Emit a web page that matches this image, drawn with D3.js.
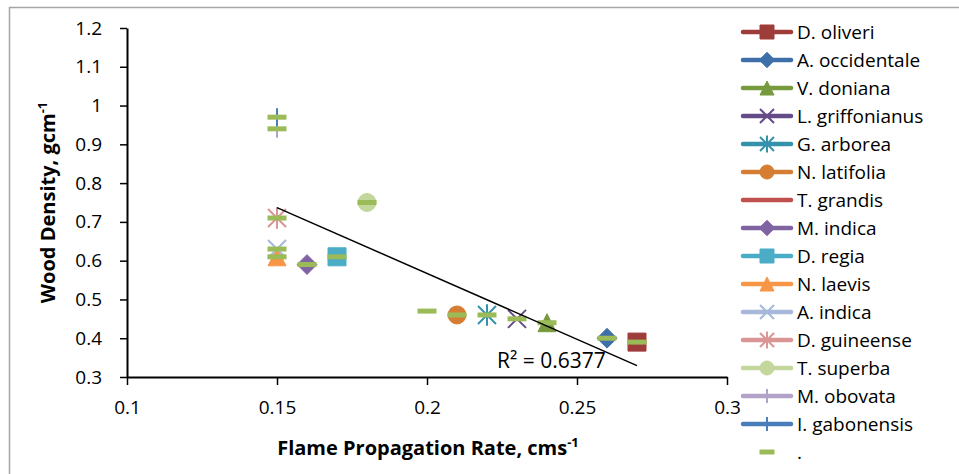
<!DOCTYPE html>
<html>
<head>
<meta charset="utf-8">
<script src="https://cdn.jsdelivr.net/npm/d3@7"></script>
<style>
  body { margin: 0; background: #fff; }
  svg text { font-family: "Open Sans", "Noto Sans", sans-serif; fill: #000; }
</style>
</head>
<body>
<div id="wrapper"></div>
<script>
// species names in legend order; last one is the "." series that holds every point
var species = ["D. oliveri", "A. occidentale", "V. doniana", "L. griffonianus", "G. arborea",
  "N. latifolia", "T. grandis", "M. indica", "D. regia", "N. laevis", "A. indica",
  "D. guineense", "T. superba", "M. obovata", "I. gabonensis", "."];
var colors = ["#9E3C3A", "#3F6FA8", "#779A3E", "#654B87", "#3592AB", "#D57D33", "#C0504D",
  "#8064A2", "#4BACC6", "#F79646", "#A6B9DA", "#D99694", "#C3D69B", "#B3A2C7", "#4A7EBB", "#9BBB59"];
var shapes = ["square", "diamond", "triangle", "x", "asterisk", "circle", "none", "diamond",
  "square", "triangle", "x", "asterisk", "circle", "plus", "plus", "dash"];
// one point per species (the "." series reuses all of them)
var rate = [0.27, 0.26, 0.24, 0.23, 0.22, 0.21, 0.20, 0.16, 0.17, 0.15, 0.15, 0.15, 0.18, 0.15, 0.15];
var density = [0.39, 0.40, 0.44, 0.45, 0.46, 0.46, 0.47, 0.59, 0.61, 0.61, 0.63, 0.71, 0.75, 0.94, 0.97];
var xTicks = [0.1, 0.15, 0.2, 0.25, 0.3];
var yTicks = [0.3, 0.4, 0.5, 0.6, 0.7, 0.8, 0.9, 1, 1.1, 1.2];
var r2Label = "R\u00B2 = 0.6377";

var width = 959, height = 474;
var margin = { left: 127, right: 232, top: 28, bottom: 97 };

var svg = d3.select("#wrapper").append("svg")
  .attr("width", width)
  .attr("height", height);

// chart area border (only top/left visible in frame)
svg.append("rect")
  .attr("x", 9.5).attr("y", 7.5)
  .attr("width", 1000).attr("height", 600)
  .attr("fill", "none")
  .attr("stroke", "#a6a6a6")
  .attr("stroke-width", 1.5);

var x = d3.scaleLinear().domain([0.1, 0.3]).range([margin.left, width - margin.right]);
var y = d3.scaleLinear().domain([0.3, 1.2]).range([height - margin.bottom, margin.top]);

var fmt = function(d) { return String(+d.toFixed(2)); };

// Y axis
var yAxis = svg.append("g")
  .attr("transform", "translate(" + x(0.1) + ",0)")
  .call(d3.axisLeft(y).tickValues(yTicks).tickFormat(fmt).tickSizeInner(7).tickSizeOuter(0).tickPadding(18));
// X axis
var xAxis = svg.append("g")
  .attr("transform", "translate(0," + y(0.3) + ")")
  .call(d3.axisBottom(x).tickValues(xTicks).tickFormat(fmt).tickSizeInner(8).tickSizeOuter(0).tickPadding(16));

[yAxis, xAxis].forEach(function(g) {
  g.select(".domain").attr("stroke", "#000").attr("stroke-width", 2);
  g.selectAll(".tick line").attr("stroke", "#000").attr("stroke-width", 1.5);
  g.selectAll(".tick text").style("font-size", "19px").attr("fill", "#000");
});

// marker path builder
function markerPath(shape, s) {
  var h = s / 2;
  switch (shape) {
    case "square": return d3.symbol(d3.symbolSquare, s * s)();
    case "diamond": return "M0," + (-h * 1.1) + "L" + (h * 1.1) + ",0L0," + (h * 1.1) + "L" + (-h * 1.1) + ",0Z";
    case "triangle": return "M0," + (-h) + "L" + h + "," + h + "L" + (-h) + "," + h + "Z";
    case "circle": return d3.symbol(d3.symbolCircle, Math.PI * h * h)();
    case "x": return "M" + (-h) + "," + (-h) + "L" + h + "," + h + "M" + (-h) + "," + h + "L" + h + "," + (-h);
    case "asterisk": return "M" + (-h) + "," + (-h) + "L" + h + "," + h + "M" + (-h) + "," + h + "L" + h + "," + (-h) + "M0," + (-h * 1.2) + "L0," + (h * 1.2);
    case "plus": return "M0," + (-h) + "L0," + h + "M" + (-h) + ",0L" + h + ",0";
    case "dash": return "M" + (-h) + ",0L" + h + ",0";
  }
  return "";
}
var filled = { square: true, diamond: true, triangle: true, circle: true };

function drawMarker(g, shape, color, px, py, s) {
  if (shape === "none") return;
  if (shape === "dash") {
    g.append("rect")
      .attr("x", px - s / 2).attr("y", py - 2.5)
      .attr("width", s).attr("height", 5)
      .attr("fill", color);
    return;
  }
  g.append("path")
    .attr("d", markerPath(shape, s))
    .attr("transform", "translate(" + px + "," + py + ")")
    .attr("fill", filled[shape] ? color : "none")
    .attr("stroke", color)
    .attr("stroke-width", filled[shape] ? 1 : 2);
}

// points of the named species
var plot = svg.append("g");
rate.forEach(function(r, i) {
  drawMarker(plot, shapes[i], colors[i], x(r), y(density[i]), 18);
});
// "." series: dash marker on every point
rate.forEach(function(r, i) {
  drawMarker(plot, "dash", colors[15], x(r), y(density[i]), 19);
});

// linear trend line of the "." series
var mx = d3.mean(rate), my = d3.mean(density);
var sxy = d3.sum(rate, function(r, i) { return (r - mx) * (density[i] - my); });
var sxx = d3.sum(rate, function(r) { return (r - mx) * (r - mx); });
var slope = sxy / sxx, icpt = my - slope * mx;
var ext = d3.extent(rate);
svg.append("path")
  .attr("d", d3.line().x(function(d) { return x(d); }).y(function(d) { return y(icpt + slope * d); })(ext))
  .attr("stroke", "#000")
  .attr("stroke-width", 1.5)
  .attr("fill", "none");

svg.append("text")
  .attr("x", 497).attr("y", 368)
  .style("font-size", "21px")
  .text(r2Label);

// axis titles
var yTitle = svg.append("text")
  .attr("transform", "translate(55," + ((y(0.3) + y(1.2)) / 2) + ") rotate(-90)")
  .attr("text-anchor", "middle")
  .style("font-size", "20px")
  .style("font-weight", "bold");
yTitle.append("tspan").text("Wood Density, gcm");
yTitle.append("tspan").attr("dy", -8).style("font-size", "13px").text("-1");

var xTitle = svg.append("text")
  .attr("x", 428).attr("y", 455)
  .attr("text-anchor", "middle")
  .style("font-size", "20px")
  .style("font-weight", "bold");
xTitle.append("tspan").text("Flame Propagation Rate, cms");
xTitle.append("tspan").attr("dy", -8).style("font-size", "13px").text("-1");

// legend
var legend = svg.append("g");
species.forEach(function(name, i) {
  var ly = 32 + i * 28.0;
  var row = legend.append("g");
  if (shapes[i] !== "dash") {
    row.append("line")
      .attr("x1", 743).attr("x2", 791)
      .attr("y1", ly).attr("y2", ly)
      .attr("stroke", colors[i])
      .attr("stroke-width", 4.5)
      .attr("stroke-linecap", "round");
  }
  drawMarker(row, shapes[i], colors[i], 767, ly, shapes[i] === "dash" ? 15 : 14);
  row.append("text")
    .attr("x", 797).attr("y", ly + 7)
    .style("font-size", "19px")
    .text(name);
});
</script>
</body>
</html>
